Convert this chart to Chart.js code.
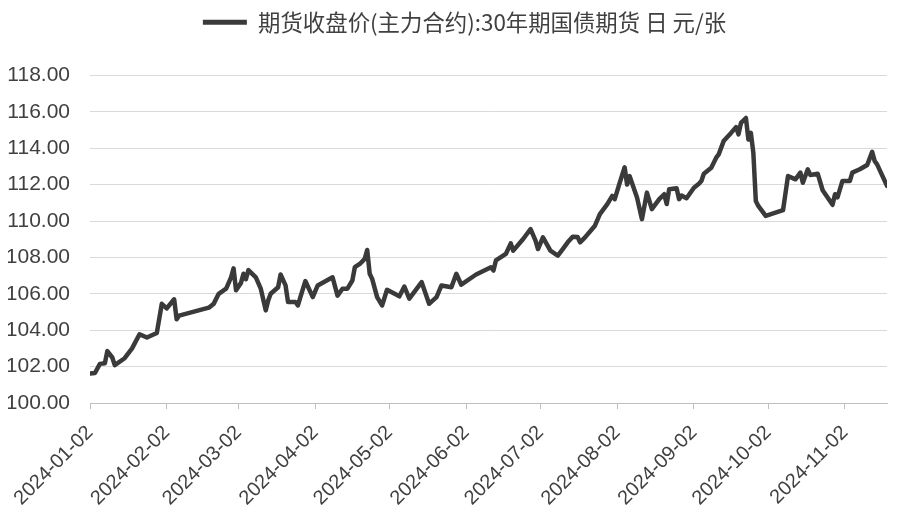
<!DOCTYPE html>
<html>
<head>
<meta charset="utf-8">
<script src="https://cdn.jsdelivr.net/npm/chart.js@4/dist/chart.umd.min.js"></script>
<style>
  html, body { margin:0; padding:0; background:#fff; }
  #wrap { width:900px; height:511px; position:relative; }
</style>
</head>
<body>
<div id="wrap"><canvas id="chart"></canvas></div>
<script>
// 期货收盘价(主力合约):30年期国债期货，日度，元/张
const SERIES_LABEL = '期货收盘价(主力合约):30年期国债期货 日 元/张';
const DATES = [
  '2024-01-02','2024-01-04','2024-01-06','2024-01-08','2024-01-09','2024-01-11','2024-01-12','2024-01-16','2024-01-19','2024-01-22',
  '2024-01-25','2024-01-29','2024-01-31','2024-02-02','2024-02-05','2024-02-06','2024-02-07','2024-02-19','2024-02-21','2024-02-23',
  '2024-02-26','2024-02-28','2024-02-29','2024-03-01','2024-03-03','2024-03-04','2024-03-05','2024-03-06','2024-03-09','2024-03-11',
  '2024-03-13','2024-03-14','2024-03-15','2024-03-18','2024-03-19','2024-03-21','2024-03-22','2024-03-25','2024-03-26','2024-03-27',
  '2024-03-29','2024-04-01','2024-04-03','2024-04-09','2024-04-11','2024-04-13','2024-04-15','2024-04-17','2024-04-18','2024-04-20',
  '2024-04-22','2024-04-23','2024-04-24','2024-04-25','2024-04-27','2024-04-29','2024-05-01','2024-05-06','2024-05-08','2024-05-10',
  '2024-05-15','2024-05-18','2024-05-21','2024-05-23','2024-05-27','2024-05-29','2024-05-31','2024-06-06','2024-06-12','2024-06-13',
  '2024-06-14','2024-06-18','2024-06-20','2024-06-21','2024-06-25','2024-06-28','2024-06-30','2024-07-01','2024-07-03','2024-07-06',
  '2024-07-09','2024-07-11','2024-07-13','2024-07-15','2024-07-17','2024-07-18','2024-07-20','2024-07-24','2024-07-26','2024-07-29',
  '2024-07-31','2024-08-01','2024-08-03','2024-08-05','2024-08-06','2024-08-07','2024-08-10','2024-08-12','2024-08-14','2024-08-16',
  '2024-08-19','2024-08-21','2024-08-22','2024-08-23','2024-08-26','2024-08-27','2024-08-28','2024-08-30','2024-09-02','2024-09-04',
  '2024-09-05','2024-09-06','2024-09-09','2024-09-11','2024-09-12','2024-09-14','2024-09-17','2024-09-19','2024-09-20','2024-09-21',
  '2024-09-23','2024-09-24','2024-09-25','2024-09-26','2024-09-27','2024-09-28','2024-10-01','2024-10-08','2024-10-10','2024-10-13',
  '2024-10-15','2024-10-16','2024-10-18','2024-10-19','2024-10-22','2024-10-24','2024-10-26','2024-10-28','2024-10-29','2024-10-30',
  '2024-11-01','2024-11-04','2024-11-05','2024-11-08','2024-11-11','2024-11-13','2024-11-14','2024-11-15','2024-11-19'
];
const PRICES = [
  101.62,101.65,102.15,102.18,102.85,102.50,102.08,102.46,103.00,103.78,
  103.60,103.85,105.45,105.20,105.70,104.60,104.80,105.24,105.46,106.00,
  106.28,106.90,107.40,106.20,106.60,107.10,106.80,107.30,106.90,106.28,
  105.09,105.64,106.00,106.36,107.06,106.46,105.55,105.55,105.36,105.82,
  106.70,105.82,106.46,106.91,105.90,106.28,106.28,106.73,107.46,107.64,
  107.92,108.41,107.10,106.82,105.82,105.36,106.22,105.86,106.40,105.73,
  106.64,105.45,105.82,106.46,106.36,107.10,106.50,107.06,107.46,107.28,
  107.83,108.19,108.77,108.37,109.01,109.56,108.92,108.46,109.10,108.37,
  108.10,108.46,108.83,109.14,109.12,108.83,109.10,109.74,110.38,110.93,
  111.38,111.20,112.10,112.95,112.00,112.47,111.29,110.10,111.56,110.65,
  111.20,111.47,110.93,111.75,111.80,111.20,111.40,111.25,111.83,112.05,
  112.20,112.60,112.93,113.48,113.66,114.39,114.84,115.16,114.76,115.39,
  115.66,114.48,114.84,113.75,111.10,110.83,110.28,110.60,112.47,112.29,
  112.66,112.10,112.84,112.53,112.60,111.69,111.29,110.89,111.47,111.30,
  112.20,112.20,112.66,112.84,113.08,113.80,113.30,113.11,111.93
];
const TICK_DATES = ['2024-01-02','2024-02-02','2024-03-02','2024-04-02','2024-05-02','2024-06-02',
  '2024-07-02','2024-08-02','2024-09-02','2024-10-02','2024-11-02'];
const Y_MIN = 100, Y_MAX = 118, Y_STEP = 2;

const LINE_COLOR = '#3a3a3a';
const TEXT_COLOR = '#404040';

// 日期 -> 距 2024-01-02 的天数（按日历日排列，和原图的日期轴一样）
const DAY0 = Date.UTC(2024, 0, 2);
function dayNum(s) {
  const [y, m, d] = s.split('-').map(Number);
  return Math.round((Date.UTC(y, m - 1, d) - DAY0) / 86400000);
}
function dayLabel(n) {
  return new Date(DAY0 + n * 86400000).toISOString().slice(0, 10);
}

const points = DATES.map((d, i) => ({ x: dayNum(d), y: PRICES[i] }));
const tickDays = TICK_DATES.map(dayNum);

// 图例：下方多留空白，并稍微右移
const legendTweak = {
  id: 'legendTweak',
  beforeLayout(chart) {
    const lg = chart.legend;
    if (!lg || lg._patched) return;
    const fit = lg.fit, draw = lg.draw;
    lg.fit = function () { fit.call(this); this.height += 32; };
    lg.draw = function (area) {
      const ctx = this.ctx;
      ctx.save(); ctx.translate(17, 0); draw.call(this, area); ctx.restore();
    };
    lg._patched = true;
  }
};

new Chart(document.getElementById('chart'), {
  type: 'line',
  data: {
    datasets: [{
      label: SERIES_LABEL,
      data: points,
      borderColor: LINE_COLOR,
      backgroundColor: LINE_COLOR,
      borderWidth: 4.5,
      borderJoinStyle: 'round',
      borderCapStyle: 'round',
      pointRadius: 0,
      tension: 0
    }]
  },
  plugins: [legendTweak],
  options: {
    responsive: true,
    maintainAspectRatio: false,
    animation: false,
    layout: { padding: { left: 8, right: 13, top: 0, bottom: 0 } },
    plugins: {
      tooltip: { enabled: false },
      legend: {
        display: true,
        position: 'top',
        labels: {
          color: TEXT_COLOR,
          font: { family: '"Noto Sans CJK SC", "Noto Sans", sans-serif', size: 22.4 },
          boxWidth: 44,
          boxHeight: 5,
          padding: 11,
          generateLabels: chart => chart.data.datasets.map((ds, i) => ({
            text: ds.label, fillStyle: ds.borderColor, strokeStyle: ds.borderColor,
            lineWidth: 0, datasetIndex: i, fontColor: TEXT_COLOR
          }))
        }
      }
    },
    scales: {
      x: {
        type: 'linear',
        min: 0,
        max: dayNum(DATES[DATES.length - 1]),
        afterBuildTicks: axis => { axis.ticks = tickDays.map(v => ({ value: v })); },
        afterFit: axis => {
          axis.height = 108;
          axis.paddingLeft = 0; axis.paddingRight = 0;
          if (axis._margins) { axis._margins.left = 0; axis._margins.right = 0; }
        },
        ticks: {
          autoSkip: false,
          minRotation: 45,
          maxRotation: 45,
          color: TEXT_COLOR,
          padding: 12,
          font: { family: '"Liberation Sans", Arial, sans-serif', size: 20 },
          callback: v => dayLabel(v)
        },
        grid: { display: true, drawOnChartArea: false, drawTicks: true, tickLength: 6, color: '#bfbfbf' },
        border: { display: true, color: '#bfbfbf', width: 1 }
      },
      y: {
        min: Y_MIN,
        max: Y_MAX,
        afterFit: axis => { axis.width = 82; },
        ticks: {
          stepSize: Y_STEP,
          color: TEXT_COLOR,
          padding: 20,
          font: { family: '"Liberation Sans", Arial, sans-serif', size: 21 },
          callback: v => v.toFixed(2)
        },
        grid: { color: '#d9d9d9', lineWidth: 1, drawTicks: false },
        border: { display: false }
      }
    }
  }
});
</script>
</body>
</html>
